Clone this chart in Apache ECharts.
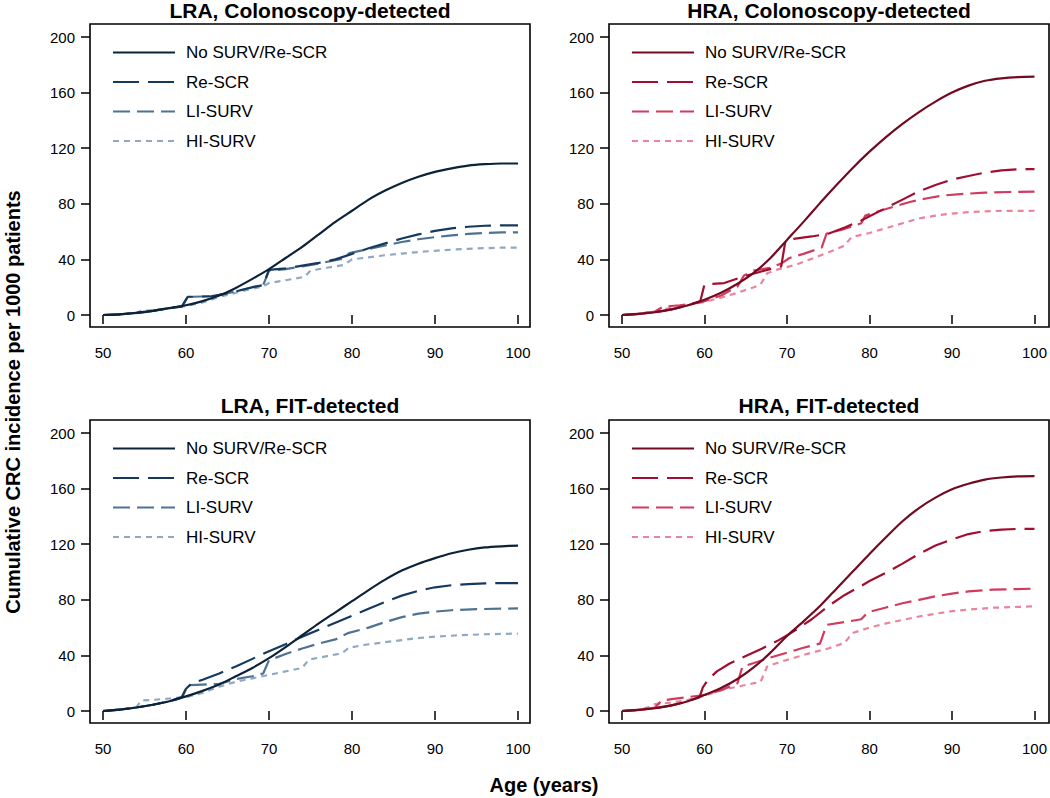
<!DOCTYPE html>
<html>
<head>
<meta charset="utf-8">
<script src="https://cdn.jsdelivr.net/npm/echarts@6/dist/echarts.min.js"></script>
<style>
html,body{margin:0;padding:0;background:#fff;}
#chart{width:1050px;height:798px;}
</style>
</head>
<body>
<div id="chart"></div>
<script>
// ---------------- data ----------------
const xTicks = [50, 60, 70, 80, 90, 100];
const yTicks = [0, 40, 80, 120, 160, 200];
const strategyNames = ['No SURV/Re-SCR', 'Re-SCR', 'LI-SURV', 'HI-SURV'];
const panelTitles = ['LRA, Colonoscopy-detected', 'HRA, Colonoscopy-detected', 'LRA, FIT-detected', 'HRA, FIT-detected'];
const xTitle = 'Age (years)';
const yTitle = 'Cumulative CRC incidence per 1000 patients';

// LRA, Colonoscopy-detected
const lraCol_noSurv = [[50,0],[52,0.5],[54,1.5],[56,3],[58,5],[60,7],[62,10],[64,14],[66,19.5],[68,26],[70,33],[72,41],[74,49],[76,58],[78,67],[80,75],[82,83],[84,89.5],[86,95],[88,99.5],[90,103],[92,105.5],[94,107.5],[96,108.5],[98,109],[100,109]];
const lraCol_reScr = [[50,0],[52,0.5],[54,1.5],[56,3],[58,5],[59.5,6],[60.2,13],[63,13.5],[64,14.5],[66,17],[68,20],[69.3,21.5],[70,32.5],[72,33.5],[74,35.5],[76,37.5],[78,40],[80,44],[82,48],[84,51.5],[86,55],[88,58],[90,60.5],[92,62.3],[94,63.5],[96,64.2],[98,64.5],[100,64.5]];
const lraCol_liSurv = [[50,0],[52,0.5],[54,1.5],[56,3],[58,5],[59.5,6],[60.2,13],[63,13.5],[64,14.5],[66,17],[68,20],[69.3,21.5],[70,32],[72,33],[74,35],[76,37],[78,39.5],[79,40.5],[79.7,44.5],[82,47.5],[84,50],[86,52.5],[88,54.5],[90,56],[92,57.3],[94,58.3],[96,59],[98,59.4],[100,59.5]];
const lraCol_hiSurv = [[50,0],[52,0.5],[54,1.2],[54.6,3],[56,3.5],[58,5],[60,6.5],[62,9],[64,13],[66,16],[68,19],[69.3,20.5],[70,23],[72,25],[74.3,27.5],[75,32],[77,34],[79,36],[80,40],[82,41.5],[84,43],[86,44.2],[88,45.3],[90,46.2],[92,47],[94,47.6],[96,48.1],[98,48.4],[100,48.5]];

// HRA, Colonoscopy-detected
const hraCol_noSurv = [[50,0],[52,0.8],[54,2],[56,4],[58,7],[60,11],[62,16],[64,22.5],[66,30.5],[68,41],[70,54],[72,67],[74,80.5],[76,93.5],[78,106],[80,117.5],[82,128],[84,137.5],[86,146],[88,153.5],[90,160],[92,165],[94,168.5],[96,170.3],[98,171.2],[100,171.5]];
const hraCol_reScr = [[50,0],[52,0.8],[54,2],[56,4],[58,7],[59.5,10],[60,22],[62.4,23],[64.6,27.5],[67,31.5],[69.3,35],[69.8,53],[71,55],[73,56.5],[75,58.5],[77,63],[79,68],[80,71],[82,77],[84,83],[86,89],[88,93.5],[90,97.5],[92,100],[94,102.5],[96,104],[98,104.8],[100,105]];
const hraCol_liSurv = [[50,0],[52,0.8],[54,2.5],[55,6],[57,7],[59,8.5],[60,10],[62,14],[64,20.5],[64.8,28.5],[66,32],[68,34],[69.3,37],[70.3,41],[72,44],[74.2,48.5],[74.8,58.5],[77,62],[79,66],[79.5,71.5],[81,74.5],[83,78],[85,81.5],[87,84],[89,86],[91,87],[94,88],[97,88.5],[100,88.8]];
const hraCol_hiSurv = [[50,0],[52,1],[54,2.5],[54.6,4],[56,5],[58,7],[60,9.5],[62,12.5],[64,16],[66,20],[66.8,22],[67.6,30],[69,33],[71,36],[73,40.5],[75,45],[77,50],[77.8,56],[80,59],[82,62.5],[84,66],[86,69.5],[88,71.5],[90,73],[92,74],[95,74.8],[100,75]];

// LRA, FIT-detected
const lraFit_noSurv = [[50,0],[52,1],[54,2.5],[56,4.5],[58,7],[60,10.5],[62,14.5],[64,19],[66,25],[68,31],[70,38],[72,46],[74,54.5],[76,63],[78,71],[80,79],[82,87],[84,94.5],[86,101],[88,106],[90,110],[92,113.5],[94,116],[96,117.7],[98,118.5],[100,119]];
const lraFit_reScr = [[50,0],[52,1],[54,2.5],[56,4.5],[58,7],[59.5,10],[60,16],[60.7,20],[62,22.5],[64,27],[66,32],[68,37.5],[70,43],[72,48],[74,53.5],[76,58.5],[78,63.5],[80,68.5],[82,73.5],[84,78.5],[86,83],[88,86.5],[90,89],[92,90.5],[94,91.3],[96,91.8],[98,92],[100,92]];
const lraFit_liSurv = [[50,0],[52,1],[54,2.5],[56,4.5],[58,7],[59.5,9.5],[60.2,18.5],[62,19],[64,19.5],[66,23],[68,25],[69.3,27],[70,36.5],[72,41],[74,45],[76,48.5],[78,51.5],[79.5,56],[82,60],[84,64],[86,67.5],[88,70],[90,71.5],[92,72.5],[95,73.3],[100,73.8]];
const lraFit_hiSurv = [[50,0],[52,1],[54,2.5],[54.6,7.5],[56,8],[58,9],[60,10],[62,13],[64,17.5],[66,21],[68,23.5],[70,26],[72,28.5],[74,31],[74.8,37],[77,39.5],[78.8,41.5],[79.6,45.5],[82,48],[84,49.5],[86,51],[88,52.5],[90,53.5],[93,54.5],[96,55.2],[100,55.7]];

// HRA, FIT-detected
const hraFit_noSurv = [[50,0],[52,0.8],[54,2],[56,4],[58,7],[60,11.5],[62,16.5],[64,23],[66,31.5],[68,42],[70,54],[72,64.5],[74,75.5],[76,88],[78,100.5],[80,113],[82,125],[84,136.5],[86,146],[88,153.5],[90,159.5],[92,163.5],[94,166.5],[96,168],[98,168.8],[100,169]];
const hraFit_reScr = [[50,0],[52,0.8],[54,2],[56,4],[58,7],[59.4,10],[59.8,17],[60.5,23],[61.5,28.5],[63,34],[65,39.5],[67,45],[69,51],[71,58],[73,66],[75,75.5],[77,83.5],[79,90],[80,93.5],[82,99.5],[84,106],[86,113],[88,119],[90,123.5],[92,127.3],[94,129.5],[96,130.5],[98,131],[100,131]];
const hraFit_liSurv = [[50,0],[52,0.8],[54,2.5],[54.8,7.5],[56,8.5],[58,10],[60,11.5],[62,15],[64,20],[64.6,32],[66,34.5],[68,38.5],[70,42],[72,45.5],[74,48.5],[74.8,62],[77,64],[79,66],[79.8,71],[82,74.5],[84,77.5],[86,80],[88,82.5],[90,84.5],[92,86],[95,87.3],[100,88]];
const hraFit_hiSurv = [[50,0],[52,1],[53.5,3],[54,5],[56,6],[58,8],[60,11],[62,15],[64,17.5],[66,20],[66.8,21],[67.6,32],[69,35],[71,38.5],[73,42],[75,45],[77,49],[77.9,56],[80,60],[82,63],[84,65.5],[86,68],[88,70],[90,71.8],[92,73],[95,74.3],[100,75.3]];

// ---------------- styles / layout ----------------
const navy = ['#0b2239', '#163a5e', '#4f7293', '#8fa9c4'];
const reds = ['#720a20', '#a00f2f', '#d23a5e', '#ea849c'];
const dashes = ['solid', [26, 9], [17, 7], [6, 5]];
const FONT = 'Liberation Sans, Arial, Helvetica, sans-serif';

const panels = [
  { title: panelTitles[0], data: [lraCol_noSurv, lraCol_reScr, lraCol_liSurv, lraCol_hiSurv], colors: navy, bx: 90, by: 24 },
  { title: panelTitles[1], data: [hraCol_noSurv, hraCol_reScr, hraCol_liSurv, hraCol_hiSurv], colors: reds, bx: 609, by: 24 },
  { title: panelTitles[2], data: [lraFit_noSurv, lraFit_reScr, lraFit_liSurv, lraFit_hiSurv], colors: navy, bx: 90, by: 420 },
  { title: panelTitles[3], data: [hraFit_noSurv, hraFit_reScr, hraFit_liSurv, hraFit_hiSurv], colors: reds, bx: 609, by: 420 }
];
const BOX_W = 440, BOX_H = 303, PAD_L = 13, PAD_T = 13, DATA_W = 415, DATA_H = 278;

const grid = [], xAxis = [], yAxis = [], series = [], legend = [], title = [], graphic = [];

panels.forEach((p, i) => {
  grid.push({ left: p.bx + PAD_L, top: p.by + PAD_T, width: DATA_W, height: DATA_H, containLabel: false });
  xAxis.push({
    type: 'value', gridIndex: i, min: xTicks[0], max: xTicks[xTicks.length - 1], interval: 10,
    offset: BOX_H - PAD_T - DATA_H,
    axisLine: { show: false },
    axisTick: { show: true, inside: false, length: 9, lineStyle: { color: '#000', width: 1.5 } },
    axisLabel: { margin: 18, fontSize: 15, color: '#000', fontFamily: FONT },
    splitLine: { show: false }
  });
  yAxis.push({
    type: 'value', gridIndex: i, min: yTicks[0], max: yTicks[yTicks.length - 1], interval: 40,
    offset: PAD_L,
    axisLine: { show: false },
    axisTick: { show: true, inside: false, length: 9, lineStyle: { color: '#000', width: 1.5 } },
    axisLabel: { margin: 15, fontSize: 15, color: '#000', fontFamily: FONT },
    splitLine: { show: false }
  });
  const names = [];
  p.data.forEach((d, k) => {
    const nm = 'p' + i + '_' + k;
    names.push(nm);
    series.push({
      type: 'line', name: nm, xAxisIndex: i, yAxisIndex: i, data: d,
      symbol: 'none', smooth: k === 0 ? 0.25 : false, animation: false,
      lineStyle: { color: p.colors[k], width: 2.2, type: dashes[k] },
      itemStyle: { color: p.colors[k] },
      z: 10 - k
    });
  });
  legend.push({
    data: names, orient: 'vertical', left: p.bx + 17, top: p.by + 15,
    itemWidth: 62, itemHeight: 14, itemGap: 12.5, selectedMode: false,
    itemStyle: { opacity: 0 },
    formatter: (nm) => strategyNames[+nm.split('_')[1]],
    textStyle: { fontSize: 17, color: '#000', fontFamily: FONT, padding: [0, 0, 0, 6], lineHeight: 17 }
  });
  title.push({
    text: p.title, left: p.bx + BOX_W / 2, top: Math.max(0, p.by - 25), textAlign: 'center', padding: 0,
    textStyle: { fontSize: 21, fontWeight: 'bold', color: '#000', fontFamily: FONT, lineHeight: 20 }
  });
  graphic.push({
    type: 'rect', shape: { x: p.bx, y: p.by, width: BOX_W, height: BOX_H }, silent: true,
    style: { fill: 'none', stroke: '#000', lineWidth: 1.6 }, z: 100
  });
});

graphic.push({
  type: 'text', x: 544, y: 785, silent: true,
  style: { text: xTitle, font: 'bold 20px ' + FONT, fill: '#000', textAlign: 'center', textVerticalAlign: 'middle' }
});
graphic.push({
  type: 'text', x: 13, y: 402, rotation: Math.PI / 2, silent: true,
  style: { text: yTitle, font: 'bold 20px ' + FONT, fill: '#000', textAlign: 'center', textVerticalAlign: 'middle' }
});

const chart = echarts.init(document.getElementById('chart'), null, { renderer: 'svg', width: 1050, height: 798 });
chart.setOption({
  backgroundColor: '#fff',
  animation: false,
  title, grid, xAxis, yAxis, series, legend, graphic
});
</script>
</body>
</html>
